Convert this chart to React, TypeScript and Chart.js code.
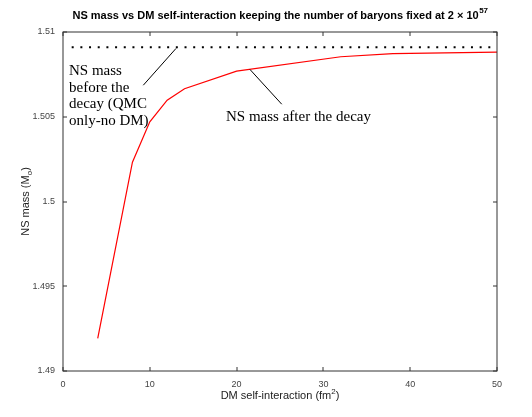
import React, { useEffect, useRef } from "react";
import { Chart, registerables } from "chart.js";

Chart.register(...registerables);

// DM self-interaction (fm^2) and NS mass after the decay (M_sun)
const interaction = [4, 8, 10, 12, 14, 20, 32, 38, 50];
const massAfter = [1.49192, 1.50232, 1.5047, 1.50598, 1.50665, 1.50769, 1.50854, 1.50873, 1.50881];
// NS mass before the decay (QMC only, no DM)
const beforeRange = [1, 50];
const massBefore = 1.5091;

const xTicks = [0, 10, 20, 30, 40, 50];
const xTickLabels = ["0", "10", "20", "30", "40", "50"];
const yTicks = [1.49, 1.495, 1.5, 1.505, 1.51];
const yTickLabels = ["1.49", "1.495", "1.5", "1.505", "1.51"];

const titleText = "NS mass vs DM self-interaction keeping the number of baryons fixed at 2 \u00d7 10";
const titleSup = "57";
const xLabel = "DM self-interaction (fm";
const yLabel = "NS mass (M";
const beforeLines = ["NS mass", "before the", "decay (QMC", "only-no DM)"];
const afterText = "NS mass after the decay";

const SANS = "'Liberation Sans', Arial, sans-serif";
const SERIF = "'Liberation Serif', 'Times New Roman', serif";

const framePlugin = {
  id: "frame",
  afterDraw(chart: any) {
    const { ctx, chartArea } = chart;
    const { left, right, top, bottom } = chartArea;
    const xs = chart.scales.x;
    const ys = chart.scales.y;
    ctx.save();
    // frame
    ctx.strokeStyle = "#333";
    ctx.lineWidth = 1;
    ctx.strokeRect(left, top, right - left, bottom - top);
    // inward ticks
    ctx.beginPath();
    xTicks.forEach((v) => {
      const px = Math.round(xs.getPixelForValue(v));
      ctx.moveTo(px, bottom);
      ctx.lineTo(px, bottom - 4);
      ctx.moveTo(px, top);
      ctx.lineTo(px, top + 4);
    });
    yTicks.forEach((v) => {
      const py = Math.round(ys.getPixelForValue(v));
      ctx.moveTo(left, py);
      ctx.lineTo(left + 4, py);
      ctx.moveTo(right, py);
      ctx.lineTo(right - 4, py);
    });
    ctx.stroke();

    // pointer lines
    ctx.strokeStyle = "#000";
    ctx.lineWidth = 1;
    ctx.beginPath();
    ctx.moveTo(xs.getPixelForValue(9.25), ys.getPixelForValue(1.50686));
    ctx.lineTo(xs.getPixelForValue(13.02), ys.getPixelForValue(1.50903));
    ctx.moveTo(xs.getPixelForValue(21.54), ys.getPixelForValue(1.50779));
    ctx.lineTo(xs.getPixelForValue(25.2), ys.getPixelForValue(1.50574));
    ctx.stroke();

    // annotation texts
    ctx.fillStyle = "#000";
    ctx.font = `15px ${SERIF}`;
    ctx.textBaseline = "middle";
    ctx.textAlign = "left";
    beforeLines.forEach((t, i) => {
      ctx.fillText(t, 69, 71 + i * 16.6);
    });
    ctx.fillText(afterText, 226, 117);

    // title
    ctx.font = `bold 11px ${SANS}`;
    const tw = ctx.measureText(titleText).width;
    ctx.font = `bold 8px ${SANS}`;
    const sw = ctx.measureText(titleSup).width;
    const cx = (left + right) / 2;
    const tx = cx - (tw + sw) / 2;
    ctx.textAlign = "left";
    ctx.textBaseline = "alphabetic";
    ctx.font = `bold 11px ${SANS}`;
    ctx.fillText(titleText, tx, 19);
    ctx.font = `bold 8px ${SANS}`;
    ctx.fillText(titleSup, tx + tw + 0.5, 13);

    // x label
    ctx.fillStyle = "#222";
    ctx.font = `11px ${SANS}`;
    const xw = ctx.measureText(xLabel).width;
    ctx.font = `8px ${SANS}`;
    const x2w = ctx.measureText("2").width;
    ctx.font = `11px ${SANS}`;
    const x3w = ctx.measureText(")").width;
    const xl = cx - (xw + x2w + x3w) / 2;
    ctx.fillText(xLabel, xl, 399);
    ctx.font = `8px ${SANS}`;
    ctx.fillText("2", xl + xw, 394);
    ctx.font = `11px ${SANS}`;
    ctx.fillText(")", xl + xw + x2w, 399);

    // y label (rotated)
    ctx.save();
    ctx.translate(29, (top + bottom) / 2);
    ctx.rotate(-Math.PI / 2);
    ctx.font = `11px ${SANS}`;
    const yw = ctx.measureText(yLabel).width;
    ctx.font = `8px ${SANS}`;
    const ow = ctx.measureText("o").width;
    ctx.font = `11px ${SANS}`;
    const cw = ctx.measureText(")").width;
    const yl = -(yw + ow + cw) / 2;
    ctx.fillText(yLabel, yl, 0);
    ctx.font = `8px ${SANS}`;
    ctx.fillText("o", yl + yw, 3);
    ctx.font = `11px ${SANS}`;
    ctx.fillText(")", yl + yw + ow, 0);
    ctx.restore();

    ctx.restore();
  },
};

export default function App() {
  const ref = useRef<HTMLCanvasElement | null>(null);
  useEffect(() => {
    document.body.style.margin = "0";
    const canvas = ref.current;
    if (!canvas) return;
    const tickFont = { family: SANS, size: 9 };
    const chart = new Chart(canvas, {
      type: "scatter",
      data: {
        datasets: [
          {
            label: "before",
            data: beforeRange.map((x) => ({ x, y: massBefore })),
            showLine: true,
            borderColor: "#000",
            borderWidth: 2,
            borderDash: [2, 6.68],
            pointRadius: 0,
          },
          {
            label: "after",
            data: interaction.map((x, i) => ({ x, y: massAfter[i] })),
            showLine: true,
            borderColor: "#ff0000",
            borderWidth: 1.2,
            pointRadius: 0,
            tension: 0,
          },
        ],
      },
      options: {
        animation: false,
        responsive: false,
        devicePixelRatio: 1,
        layout: { padding: { top: 32, right: 35, left: 0, bottom: 0 } },
        plugins: { legend: { display: false }, title: { display: false }, tooltip: { enabled: false } },
        scales: {
          x: {
            type: "linear",
            min: 0,
            max: 50,
            afterBuildTicks: (s: any) => {
              s.ticks = xTicks.map((v) => ({ value: v }));
            },
            afterFit: (s: any) => {
              s.height = 46;
            },
            grid: { display: false, drawTicks: false, tickLength: 0 },
            border: { display: false },
            ticks: {
              padding: 8,
              maxRotation: 0,
              font: tickFont,
              color: "#444",
              callback: (_v: any, i: number) => xTickLabels[i],
            },
          },
          y: {
            type: "linear",
            min: 1.49,
            max: 1.51,
            afterBuildTicks: (s: any) => {
              s.ticks = yTicks.map((v) => ({ value: v }));
            },
            afterFit: (s: any) => {
              s.width = 63;
            },
            grid: { display: false, drawTicks: false, tickLength: 0 },
            border: { display: false },
            ticks: {
              padding: 8,
              font: tickFont,
              color: "#444",
              callback: (_v: any, i: number) => yTickLabels[i],
            },
          },
        },
      },
      plugins: [framePlugin],
    } as any);
    return () => chart.destroy();
  }, []);
  return (
    <div style={{ width: 532, height: 417 }}>
      <canvas ref={ref} width={532} height={417} style={{ display: "block" }} />
    </div>
  );
}
